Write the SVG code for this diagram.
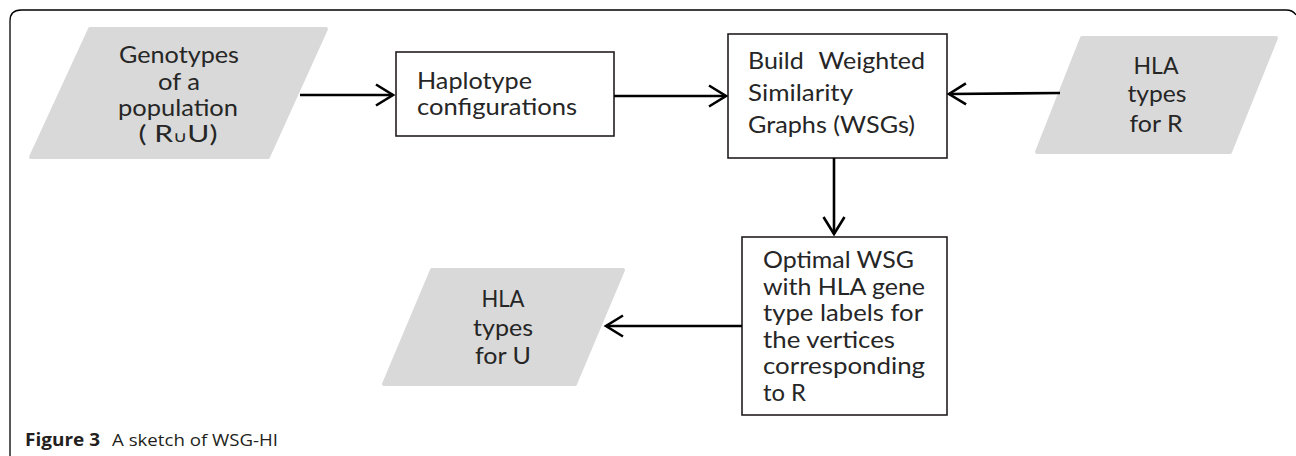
<svg xmlns="http://www.w3.org/2000/svg" width="1296" height="456" viewBox="0 0 1296 456">
<style>
.frame{fill:none;stroke:#000;stroke-width:1.3}
.io{fill:#d9d9d9;stroke:#d9d9d9;stroke-width:4;stroke-linejoin:round}
.box{fill:#fff;stroke:#231f20;stroke-width:1.6}
.t{font-family:Lato,"Liberation Sans",sans-serif;font-size:23px;fill:#262626}
.c{text-anchor:middle}
.edge{fill:none;stroke:#000;stroke-width:2.6}
.cap{font-family:"Open Sans","Liberation Sans",sans-serif;font-size:17px;fill:#231f20}
</style>
<defs>
<marker id="arr" markerUnits="userSpaceOnUse" markerWidth="24" markerHeight="26" viewBox="-20 -13 24 26" refX="0" refY="0" orient="auto">
<path d="M-17,-10.5 L0,0 L-17,10.5" fill="none" stroke="#000" stroke-width="2.6"/>
</marker>
</defs>
<rect width="1296" height="456" fill="#fff"/>
<path class="frame" d="M10,456 V21 Q10,10 21,10 H1286 Q1293,10 1296,15"/>

<g id="genotypes">
<polygon class="io" points="90,29 326,29 268,157 31,157"/>
<text class="t c" x="179" y="63" font-size="22" textLength="120" lengthAdjust="spacingAndGlyphs">Genotypes</text>
<text class="t c" x="179" y="89.5" font-size="22" textLength="42" lengthAdjust="spacingAndGlyphs">of a</text>
<text class="t c" x="178" y="115.5" font-size="22" textLength="120" lengthAdjust="spacingAndGlyphs">population</text>
<text class="t c" x="178" y="142" font-size="22" textLength="79" lengthAdjust="spacingAndGlyphs">( R<tspan font-family="'DejaVu Sans',sans-serif" font-size="15">∪</tspan>U)</text>
</g>

<g id="haplotype">
<rect class="box" x="396" y="52" width="218" height="84"/>
<text class="t" x="417" y="89" textLength="115" lengthAdjust="spacingAndGlyphs">Haplotype</text>
<text class="t" x="417" y="115" textLength="160" lengthAdjust="spacingAndGlyphs">configurations</text>
</g>

<g id="build">
<rect class="box" x="728" y="34" width="219" height="124"/>
<text class="t" x="748" y="69" textLength="177" lengthAdjust="spacingAndGlyphs" word-spacing="8">Build Weighted</text>
<text class="t" x="748" y="101" textLength="105" lengthAdjust="spacingAndGlyphs">Similarity</text>
<text class="t" x="748" y="133" textLength="167" lengthAdjust="spacingAndGlyphs">Graphs (WSGs)</text>
</g>

<g id="hlaR">
<polygon class="io" points="1082,38 1276,38 1230,152 1037,152"/>
<text class="t c" x="1156" y="74" textLength="45" lengthAdjust="spacingAndGlyphs">HLA</text>
<text class="t c" x="1157" y="102" textLength="59" lengthAdjust="spacingAndGlyphs">types</text>
<text class="t c" x="1156" y="132" textLength="53" lengthAdjust="spacingAndGlyphs">for R</text>
</g>

<g id="optimal">
<rect class="box" x="742" y="237" width="205" height="178"/>
<text class="t" x="763" y="268" textLength="151" lengthAdjust="spacingAndGlyphs">Optimal WSG</text>
<text class="t" x="763" y="294.5" textLength="162" lengthAdjust="spacingAndGlyphs">with HLA gene</text>
<text class="t" x="763" y="321" textLength="160" lengthAdjust="spacingAndGlyphs">type labels for</text>
<text class="t" x="763" y="347.5" textLength="132" lengthAdjust="spacingAndGlyphs">the vertices</text>
<text class="t" x="763" y="374" textLength="162" lengthAdjust="spacingAndGlyphs">corresponding</text>
<text class="t" x="763" y="401" textLength="43" lengthAdjust="spacingAndGlyphs">to R</text>
</g>

<g id="hlaU">
<polygon class="io" points="432,270 623,270 575,384 384,384"/>
<text class="t c" x="503" y="307" textLength="43" lengthAdjust="spacingAndGlyphs">HLA</text>
<text class="t c" x="503" y="335.5" textLength="60" lengthAdjust="spacingAndGlyphs">types</text>
<text class="t c" x="503" y="364" textLength="56" lengthAdjust="spacingAndGlyphs">for U</text>
</g>

<g id="connectors">
<line class="edge" x1="300" y1="95" x2="393" y2="95" marker-end="url(#arr)"/>
<line class="edge" x1="614" y1="96" x2="726" y2="96" marker-end="url(#arr)"/>
<line class="edge" x1="1060" y1="93" x2="949" y2="94" marker-end="url(#arr)"/>
<line class="edge" x1="834" y1="158" x2="834" y2="234" marker-end="url(#arr)"/>
<line class="edge" x1="742" y1="326" x2="606" y2="326" marker-end="url(#arr)"/>
</g>

<g id="caption">
<text class="cap" x="25" y="446"><tspan font-weight="bold" textLength="75" lengthAdjust="spacingAndGlyphs">Figure 3</tspan><tspan x="112" textLength="166" lengthAdjust="spacingAndGlyphs">A sketch of WSG-HI</tspan></text>
</g>
</svg>
